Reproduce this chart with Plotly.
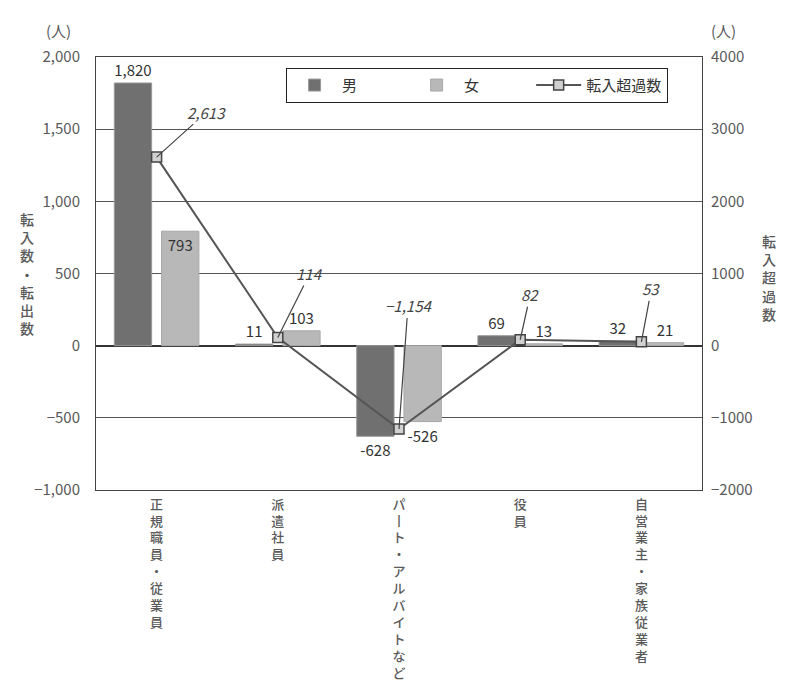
import plotly.graph_objects as go

categories = ["正規職員・従業員", "派遣社員", "パート・アルバイトなど", "役員", "自営業主・家族従業者"]
male = [1820, 11, -628, 69, 32]
female = [793, 103, -526, 13, 21]
net = [2613, 114, -1154, 82, 53]
left_ticks = [-1000, -500, 0, 500, 1000, 1500, 2000]
right_ticks = [-2000, -1000, 0, 1000, 2000, 3000, 4000]

FONT = "Noto Sans CJK JP"
GRAY = "#5a5a5a"
NB = "\u00a0"

def vertical(s):
    return "<br>".join("丨" if c == "ー" else c for c in s)

fig = go.Figure()
fig.add_trace(go.Bar(
    x=categories, y=male, name="男" + NB * 14,
    marker=dict(color="#707070", line=dict(color="#9a9a9a", width=1)),
    texttemplate="%{y:,}", textposition="outside",
    textfont=dict(family=FONT, size=15, color="#333"),
    cliponaxis=False,
))
fig.add_trace(go.Bar(
    x=categories, y=female, name="女" + NB * 14,
    marker=dict(color="#b8b8b8", line=dict(color="#a8a8a8", width=1)),
    texttemplate="%{y:,}",
    textposition=["inside", "outside", "outside", "outside", "outside"],
    insidetextanchor="end",
    textfont=dict(family=FONT, size=15, color="#333"),
    cliponaxis=False,
))
fig.add_trace(go.Scatter(
    x=categories, y=net, name="転入超過数", yaxis="y2",
    mode="lines+markers",
    line=dict(color="#555555", width=2),
    marker=dict(symbol="square", size=10, color="#d0d0d0",
                line=dict(color="#444", width=1.5)),
))

offsets = [(50, -45), (32, -64), (9, -123), (10, -45), (10, -53)]
for cat, v, (ax, ay) in zip(categories, net, offsets):
    fig.add_annotation(
        x=cat, y=v, yref="y2", text=f"<i>{v:,}</i>".replace("-", "−"),
        showarrow=True, arrowhead=0, arrowwidth=1.2, arrowcolor="#444",
        ax=ax, ay=ay, font=dict(family=FONT, size=15, color="#444"),
    )

fig.add_annotation(x=-0.085, y=1.09, xref="paper", yref="paper", text="(人)",
                   showarrow=False, font=dict(family=FONT, size=15, color=GRAY))
fig.add_annotation(x=1.06, y=1.09, xref="paper", yref="paper", text="(人)",
                   showarrow=False, font=dict(family=FONT, size=15, color=GRAY))
fig.add_annotation(x=-0.128, y=0.5, xref="paper", yref="paper",
                   text=vertical("転入数・転出数"), showarrow=False,
                   font=dict(family=FONT, size=14, color=GRAY, weight=500))
fig.add_annotation(x=1.125, y=0.49, xref="paper", yref="paper",
                   text=vertical("転入超過数"), showarrow=False,
                   font=dict(family=FONT, size=14, color=GRAY, weight=500))

fig.update_layout(
    width=791, height=682,
    margin=dict(l=88, r=97, t=49, b=200, autoexpand=False),
    paper_bgcolor="white", plot_bgcolor="white",
    barmode="group", bargap=0.22, bargroupgap=0.21,
    font=dict(family=FONT, size=15, color=GRAY),
    showlegend=True,
    legend=dict(orientation="h", x=0.944, xanchor="right", y=0.975, yanchor="top",
                itemwidth=45,
                bordercolor="#222", borderwidth=1, bgcolor="white",
                font=dict(family=FONT, size=15, color="#333")),
    xaxis=dict(
        tickmode="array", tickvals=categories,
        ticktext=[vertical(c) for c in categories],
        tickangle=0, showline=True, linecolor="#444", mirror=True,
        ticks="", tickfont=dict(family=FONT, size=13, color=GRAY, weight=500),
        ticklabelstandoff=2,
        showgrid=False, automargin=False,
    ),
    yaxis=dict(
        range=[-1000, 2000], tickvals=left_ticks, tickformat=",",
        showgrid=True, gridcolor="#555", gridwidth=1,
        zeroline=True, zerolinecolor="#333", zerolinewidth=1.5,
        showline=True, linecolor="#444", mirror=True, ticks="",
        ticklabelstandoff=12, automargin=False,
        tickfont=dict(family=FONT, size=15, color=GRAY),
    ),
    yaxis2=dict(
        range=[-2000, 4000], tickvals=right_ticks, tickformat="d",
        overlaying="y", side="right", showgrid=False, zeroline=False,
        ticks="", ticklabelstandoff=8, automargin=False,
        tickfont=dict(family=FONT, size=15, color=GRAY),
    ),
)

fig.write_html("out.html")
